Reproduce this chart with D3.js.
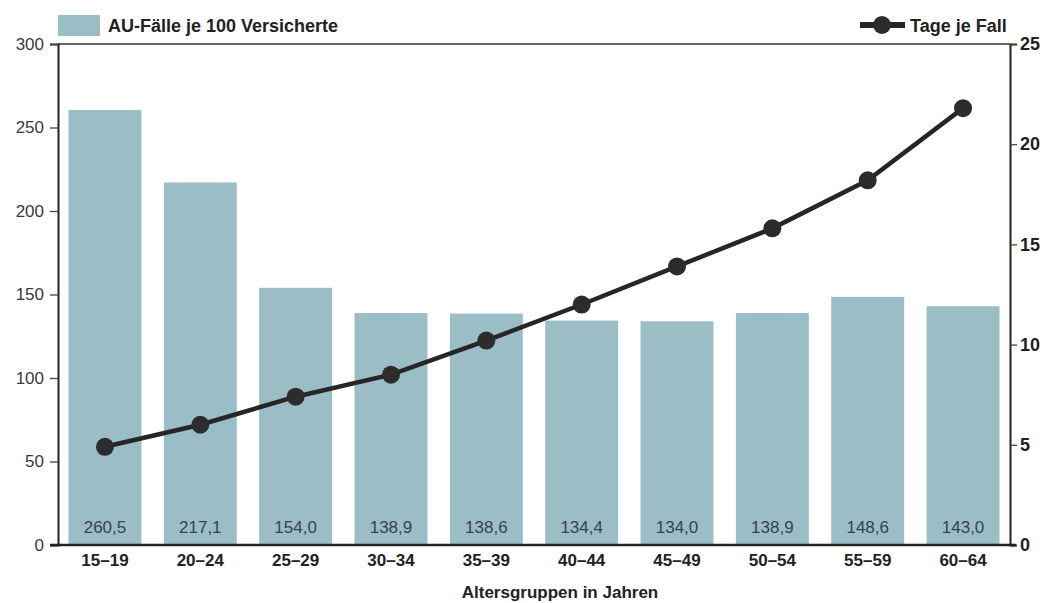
<!DOCTYPE html>
<html>
<head>
<meta charset="utf-8">
<script src="https://cdn.jsdelivr.net/npm/d3@7"></script>
<style>
  body { margin: 0; background: #fff; overflow: hidden; }
  svg { display: block; font-family: "Liberation Sans", Arial, sans-serif; }
</style>
</head>
<body>
<div id="chart"></div>
<script>
const groups = ["15–19", "20–24", "25–29", "30–34", "35–39", "40–44", "45–49", "50–54", "55–59", "60–64"];
const faelle = [260.5, 217.1, 154.0, 138.9, 138.6, 134.4, 134.0, 138.9, 148.6, 143.0];
const tage = [4.9, 6.0, 7.4, 8.5, 10.2, 12.0, 13.9, 15.8, 18.2, 21.8];
const leftTicks = [0, 50, 100, 150, 200, 250, 300];
const rightTicks = [0, 5, 10, 15, 20, 25];

const w = 1050, h = 603;
const pLeft = 58, pRight = 1010, pTop = 44, pBottom = 545;
const barColor = "#9bbdc5", lineColor = "#262626";
const font = "Liberation Sans, Arial, sans-serif";

const svg = d3.select("#chart").append("svg")
  .attr("width", w).attr("height", h);

const x = d3.scaleBand().domain(groups).range([pLeft, pRight]).paddingInner(0.235).paddingOuter(0.11);
const yL = d3.scaleLinear().domain([0, 300]).range([pBottom, pTop]);
const yR = d3.scaleLinear().domain([0, 25]).range([pBottom, pTop]);

// bars
svg.selectAll("rect.bar")
  .data(groups)
  .enter().append("rect")
  .attr("class", "bar")
  .attr("x", d => x(d))
  .attr("width", x.bandwidth())
  .attr("y", (d, i) => yL(faelle[i]))
  .attr("height", (d, i) => yL(0) - yL(faelle[i]))
  .attr("fill", barColor);

// bar value labels
svg.selectAll("text.val")
  .data(groups)
  .enter().append("text")
  .attr("class", "val")
  .attr("x", d => x(d) + x.bandwidth() / 2)
  .attr("y", pBottom - 12)
  .attr("text-anchor", "middle")
  .attr("font-size", 17)
  .attr("fill", "#34444f")
  .text((d, i) => faelle[i].toFixed(1).replace(".", ","));

// frame top
svg.append("line")
  .attr("x1", pLeft).attr("x2", pRight).attr("y1", pTop).attr("y2", pTop)
  .attr("stroke", "#333").attr("stroke-width", 1.5);

// left axis
svg.append("g")
  .attr("transform", `translate(${pLeft},0)`)
  .call(d3.axisLeft(yL).tickValues(leftTicks).tickSize(8).tickPadding(6))
  .call(g => g.select(".domain").attr("stroke", "#222").attr("stroke-width", 2))
  .call(g => g.selectAll(".tick line").attr("stroke", "#444").attr("stroke-width", 1.3))
  .call(g => g.selectAll("text").attr("font-size", 17).attr("fill", "#3a3a3a").attr("font-family", font));

// right axis
svg.append("g")
  .attr("transform", `translate(${pRight},0)`)
  .call(d3.axisRight(yR).tickValues(rightTicks).tickSize(7).tickPadding(3))
  .call(g => g.select(".domain").attr("stroke", "#222").attr("stroke-width", 2))
  .call(g => g.selectAll(".tick line").attr("stroke", "#444").attr("stroke-width", 1.3))
  .call(g => g.selectAll("text").attr("font-size", 18).attr("font-weight", "bold").attr("fill", "#222")
    .attr("font-family", font));

// bottom axis
svg.append("g")
  .attr("transform", `translate(0,${pBottom})`)
  .call(d3.axisBottom(x).tickSize(0).tickPadding(9))
  .call(g => g.select(".domain").remove())
  .call(g => g.selectAll("text").attr("font-size", 17).attr("font-weight", "bold").attr("fill", "#222")
    .attr("font-family", font));

svg.append("line")
  .attr("x1", pLeft - 8).attr("x2", pRight + 6).attr("y1", pBottom).attr("y2", pBottom)
  .attr("stroke", "#222").attr("stroke-width", 2.5);

svg.append("text")
  .attr("x", (pLeft + pRight) / 2 + 26)
  .attr("y", 598)
  .attr("text-anchor", "middle")
  .attr("font-size", 17).attr("font-weight", "bold").attr("fill", "#222")
  .text("Altersgruppen in Jahren");

// line series
const line = d3.line()
  .x((d, i) => x(groups[i]) + x.bandwidth() / 2)
  .y(d => yR(d));

svg.append("path")
  .datum(tage)
  .attr("d", line)
  .attr("fill", "none")
  .attr("stroke", lineColor)
  .attr("stroke-width", 4.5);

svg.selectAll("circle.pt")
  .data(tage)
  .enter().append("circle")
  .attr("class", "pt")
  .attr("cx", (d, i) => x(groups[i]) + x.bandwidth() / 2)
  .attr("cy", d => yR(d))
  .attr("r", 9)
  .attr("fill", "#2c2c2c");

// legend
svg.append("rect")
  .attr("x", 58).attr("y", 15).attr("width", 42).attr("height", 21)
  .attr("fill", barColor);
svg.append("text")
  .attr("x", 108).attr("y", 32)
  .attr("font-size", 18).attr("font-weight", "bold").attr("fill", "#222")
  .text("AU-Fälle je 100 Versicherte");

svg.append("line")
  .attr("x1", 860).attr("x2", 905).attr("y1", 25).attr("y2", 25)
  .attr("stroke", lineColor).attr("stroke-width", 6);
svg.append("circle")
  .attr("cx", 882).attr("cy", 25).attr("r", 9)
  .attr("fill", "#2c2c2c");
svg.append("text")
  .attr("x", 910).attr("y", 32)
  .attr("font-size", 18).attr("font-weight", "bold").attr("fill", "#222")
  .text("Tage je Fall");
</script>
</body>
</html>
